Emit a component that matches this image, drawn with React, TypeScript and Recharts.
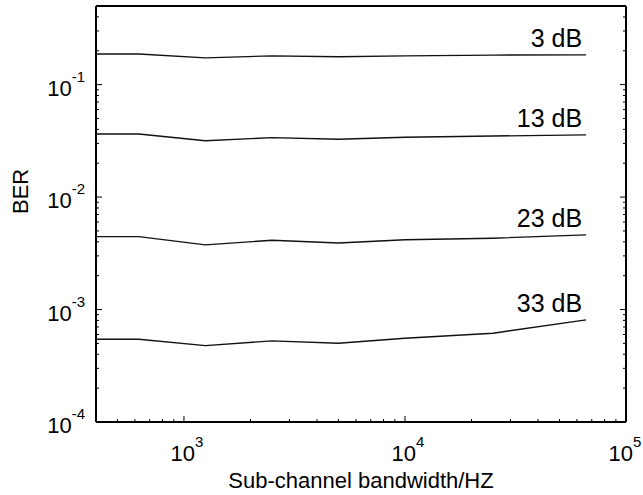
import { Line, LineChart, XAxis, YAxis } from 'recharts';

const bandwidth = [400, 625, 1250, 2500, 5000, 10000, 25000, 66000];
const ber3dB = [0.187, 0.187, 0.173, 0.18, 0.177, 0.18, 0.183, 0.184];
const ber13dB = [0.0364, 0.0364, 0.0317, 0.0338, 0.0327, 0.034, 0.0349, 0.0357];
const ber23dB = [0.00445, 0.00445, 0.00376, 0.00413, 0.00391, 0.00418, 0.00431, 0.00461];
const ber33dB = [0.000545, 0.000545, 0.000478, 0.000526, 0.000502, 0.000556, 0.000616, 0.000809];
const seriesNames = ['3 dB', '13 dB', '23 dB', '33 dB'];

const xTicks = [400, 500, 600, 700, 800, 900, 1000, 2000, 3000, 4000, 5000, 6000, 7000, 8000, 9000, 10000, 20000, 30000, 40000, 50000, 60000, 70000, 80000, 90000, 100000];
const yTicks = [
  0.0001, 0.0002, 0.0003, 0.0004, 0.0005, 0.0006, 0.0007, 0.0008, 0.0009,
  0.001, 0.002, 0.003, 0.004, 0.005, 0.006, 0.007, 0.008, 0.009,
  0.01, 0.02, 0.03, 0.04, 0.05, 0.06, 0.07, 0.08, 0.09,
  0.1, 0.2, 0.3, 0.4, 0.5,
];

const rows = bandwidth.map((bw, i) => ({
  bw,
  s3: ber3dB[i],
  s13: ber13dB[i],
  s23: ber23dB[i],
  s33: ber33dB[i],
}));

const W = 643;
const FONT = '"Liberation Sans", Arial, Helvetica, sans-serif';
const MAJOR = 6;
const MINOR = 3;

const exponentOf = (v: number) => {
  const e = Math.log10(v);
  return Math.abs(e - Math.round(e)) < 1e-9 ? Math.round(e) : null;
};

// ticks point inward, like a matlab box
const BottomTick = (props: any) => {
  const { x, y, payload } = props;
  const e = exponentOf(payload.value);
  // keep the last label (10^5) inside the picture
  const cx = Math.min(x + 3, W - 18);
  return (
    <g>
      <line x1={x} x2={x} y1={y} y2={y - (e !== null ? MAJOR : MINOR)} stroke="#000" strokeWidth={1} />
      {e !== null && (
        <text x={cx} y={y + 39} textAnchor="middle" fontSize={22} fontFamily={FONT} fill="#000">
          10<tspan dy={-14} fontSize={15}>{e}</tspan>
        </text>
      )}
    </g>
  );
};

const TopTick = (props: any) => {
  const { x, y, payload } = props;
  const e = exponentOf(payload.value);
  return <line x1={x} x2={x} y1={y} y2={y + (e !== null ? MAJOR : MINOR)} stroke="#000" strokeWidth={1} />;
};

const LeftTick = (props: any) => {
  const { x, y, payload } = props;
  const e = exponentOf(payload.value);
  return (
    <g>
      <line x1={x} x2={x + (e !== null ? MAJOR : MINOR)} y1={y} y2={y} stroke="#000" strokeWidth={1} />
      {e !== null && (
        <text x={x - 11} y={y + 11} textAnchor="end" fontSize={22} fontFamily={FONT} fill="#000">
          10<tspan dy={-14} fontSize={15}>{e}</tspan>
        </text>
      )}
    </g>
  );
};

const RightTick = (props: any) => {
  const { x, y, payload } = props;
  const e = exponentOf(payload.value);
  return <line x1={x} x2={x - (e !== null ? MAJOR : MINOR)} y1={y} y2={y} stroke="#000" strokeWidth={1} />;
};

const endLabel = (name: string) => (props: any) => {
  const { x, y, index } = props;
  if (index !== bandwidth.length - 1) return <g />;
  return (
    <text x={x - 4} y={y - 8} textAnchor="end" fontSize={25} fontFamily={FONT} fill="#000">
      {name}
    </text>
  );
};

export default function App() {
  const keys = ['s3', 's13', 's23', 's33'];
  const axisLine = { stroke: '#000', strokeWidth: 2 };

  return (
    <div style={{ position: 'absolute', left: 0, top: 0, background: '#fff' }}>
      <LineChart width={W} height={495} data={rows} margin={{ top: 0, right: 0, bottom: 0, left: 0 }}>
        <XAxis
          dataKey="bw"
          type="number"
          scale="log"
          domain={[400, 100000]}
          allowDataOverflow
          ticks={xTicks}
          interval={0}
          height={73}
          tickSize={0}
          tickMargin={0}
          axisLine={axisLine}
          tick={<BottomTick />}
          label={{
            value: 'Sub-channel bandwidth/HZ',
            position: 'insideBottom',
            offset: 7,
            fontSize: 22,
            fontFamily: FONT,
            fill: '#000',
          }}
        />
        <XAxis
          xAxisId="top"
          orientation="top"
          type="number"
          scale="log"
          domain={[400, 100000]}
          allowDataOverflow
          ticks={xTicks}
          interval={0}
          height={6}
          tickSize={0}
          tickMargin={0}
          axisLine={axisLine}
          tick={<TopTick />}
        />
        <YAxis
          type="number"
          scale="log"
          domain={[0.0001, 0.5]}
          allowDataOverflow
          ticks={yTicks}
          interval={0}
          width={96}
          tickSize={0}
          tickMargin={0}
          axisLine={axisLine}
          tick={<LeftTick />}
          label={{
            value: 'BER',
            angle: -90,
            position: 'insideLeft',
            offset: 20,
            fontSize: 22,
            fontFamily: FONT,
            fill: '#000',
          }}
        />
        <YAxis
          yAxisId="right"
          orientation="right"
          type="number"
          scale="log"
          domain={[0.0001, 0.5]}
          allowDataOverflow
          ticks={yTicks}
          interval={0}
          width={17}
          tickSize={0}
          tickMargin={0}
          axisLine={axisLine}
          tick={<RightTick />}
        />
        {keys.map((k, i) => (
          <Line
            key={k}
            dataKey={k}
            type="linear"
            stroke="#111"
            strokeWidth={1.4}
            dot={false}
            activeDot={false}
            label={endLabel(seriesNames[i])}
            isAnimationActive={false}
          />
        ))}
      </LineChart>
    </div>
  );
}
